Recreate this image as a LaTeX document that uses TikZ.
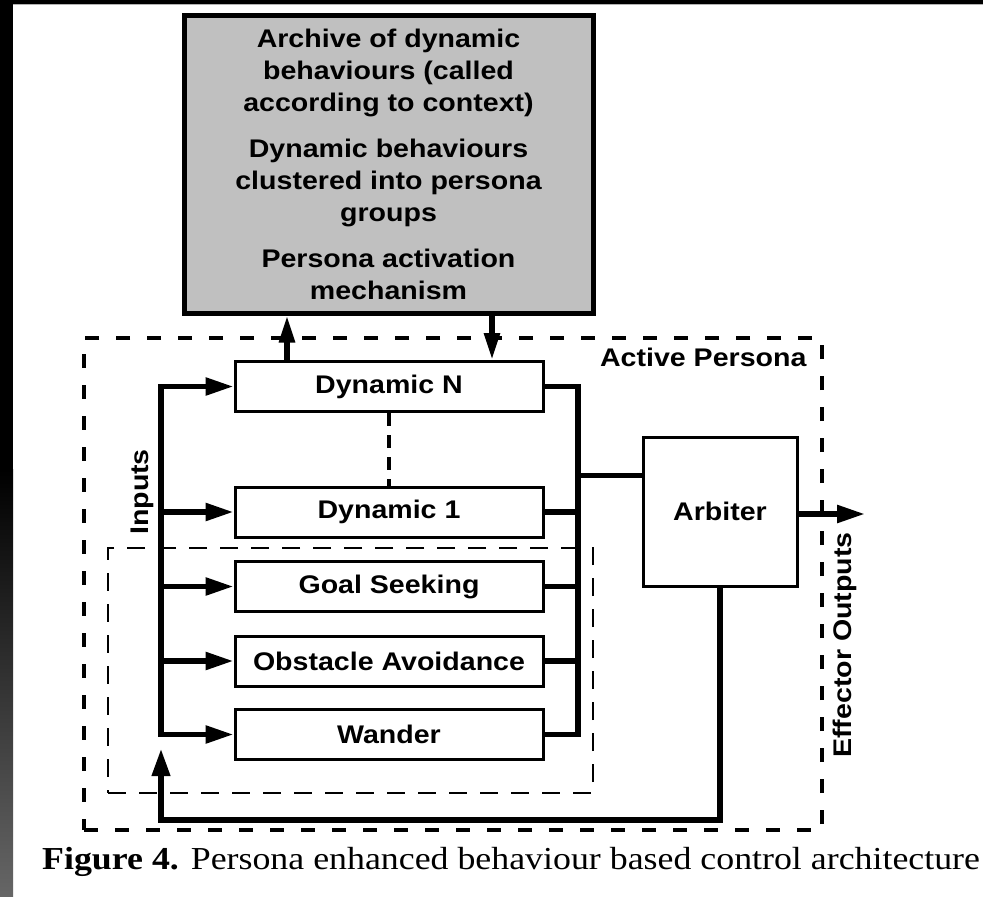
\documentclass[tikz,border=0pt]{standalone}
\usepackage{fontspec}
\setmainfont{Liberation Sans}[FakeStretch=1.12]
\newfontfamily\capfont{Liberation Serif}[FakeStretch=1.12]
\usetikzlibrary{arrows.meta}
\definecolor{archfill}{HTML}{C0C0C0}
\definecolor{edgegray}{HTML}{666666}

\begin{document}
\begin{tikzpicture}[x=1pt,y=-1pt,
  lbl/.style={font=\fontsize{25.5}{32}\selectfont\bfseries},
  box/.style={lbl, draw, line width=3pt, fill=white, inner sep=0pt,
    minimum width=308pt, minimum height=50pt},
  wire/.style={line width=5.5pt},
  tip/.style={-{Triangle[length=28pt,width=17pt]}},
  arr/.style={wire, tip},
  vtip/.style={-{Triangle[length=27pt,width=15pt]}},
  bigdash/.style={line width=4.5pt, dash pattern=on 14pt off 17pt},
  thindash/.style={line width=1.4pt, dash pattern=on 18pt off 13pt}]
\useasboundingbox (0,0) rectangle (983,897);
\fill[white] (0,0) rectangle (983,897);

% slide frame edges
\fill[black] (0,0) rectangle (983,4);
\fill[gray!60] (13,4) rectangle (983,5);
\fill[black] (0,0) rectangle (13,470);
\shade[top color=black, bottom color=edgegray] (0,469) rectangle (13,897);

% archive of behaviours
\node[lbl, draw, line width=5pt, fill=archfill, align=center,
  minimum width=409pt, minimum height=298pt, inner sep=0pt]
  (archive) at (388.5,164)
  {Archive of dynamic\\behaviours (called\\according to context)\\[14pt]
   Dynamic behaviours\\clustered into persona\\groups\\[14pt]
   Persona activation\\mechanism};

% active persona frame and base behaviour group
\node[draw, bigdash, minimum width=738pt, minimum height=492pt, inner sep=0pt]
  (persona) at (453,584) {};
\node[draw, thindash, minimum width=485pt, minimum height=245pt, inner sep=0pt]
  (base) at (350.5,670.5) {};
\node[lbl, anchor=east] (ptitle) at (810,357) {Active Persona};

% behaviour modules
\node[box] (DN) at (389,386.5) {Dynamic N};
\node[box] (D1) at (389,512) {Dynamic 1};
\node[box] (GS) at (389,586.5) {Goal Seeking};
\node[box] (OA) at (389,661) {Obstacle Avoidance};
\node[box] (W)  at (389,734.5) {Wander};
\node[lbl, draw, line width=3pt, inner sep=0pt, minimum width=154pt,
  minimum height=149pt] (arb) at (720,511.5) {Arbiter};

% bus positions
\coordinate (ibus) at (161,0);
\coordinate (obus) at (578,0);
\coordinate (upx) at (287,0);
\coordinate (dnx) at (492,0);
\coordinate (arbin) at (643,475);
\coordinate (outtip) at (865,514);
\coordinate (fbL) at (161,820);
\coordinate (fbtip) at (161,748);

% link to the archive
\draw[wire, vtip] (DN.north -| upx) -- (archive.south -| upx);
\draw[wire, vtip] (archive.south -| dnx) -- (DN.north -| dnx);
\draw[line width=4.5pt, dash pattern=on 13pt off 9pt] (DN.south) -- (D1.north);

% inputs bus
\draw[wire, {Triangle[length=28pt,width=17pt]}-{Triangle[length=28pt,width=17pt]}]
  (DN.west) -- (DN.west -| ibus) -- (W.west -| ibus) -- (W.west);
\draw[arr] (D1.west -| ibus) -- (D1.west);
\draw[arr] (GS.west -| ibus) -- (GS.west);
\draw[arr] (OA.west -| ibus) -- (OA.west);
\node[lbl, rotate=90] (inputs) at (142,492) {Inputs};

% outputs bus to arbiter
\draw[wire] (DN.east) -- (DN.east -| obus) -- (W.east -| obus) -- (W.east);
\draw[wire] (D1.east) -- (D1.east -| obus);
\draw[wire] (GS.east) -- (GS.east -| obus);
\draw[wire] (OA.east) -- (OA.east -| obus);
\draw[line width=5pt] (arbin -| obus) -- (arbin);

% arbiter output and feedback
\draw[wire, tip] (arb.east |- outtip) -- (outtip);
\node[lbl, rotate=90] (effout) at (845,645) {Effector Outputs};
\draw[line width=6.5pt, tip] (arb.south) |- (fbL) -- (fbtip);

% caption
\node[anchor=base west, inner sep=0pt, font=\fontsize{32}{36}\selectfont\capfont]
  (caption) at (42,869) {\textbf{Figure 4.} Persona enhanced behaviour based control architecture};
\end{tikzpicture}
\end{document}
